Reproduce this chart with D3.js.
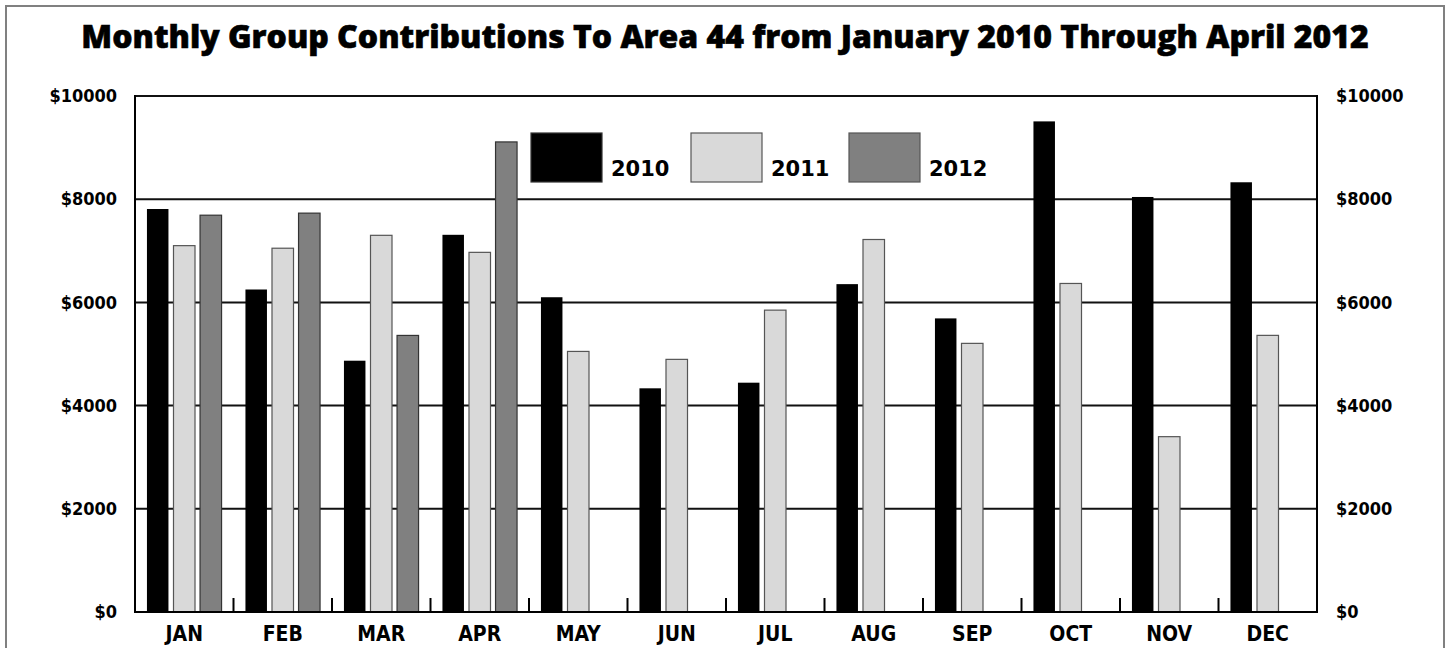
<!DOCTYPE html>
<html>
<head>
<meta charset="utf-8">
<script src="https://cdn.jsdelivr.net/npm/d3@7"></script>
<style>
  html, body { margin: 0; padding: 0; background: #fff; }
  svg { display: block; }
  .lbl { font-family: 'DejaVu Sans Condensed', 'DejaVu Sans', sans-serif; font-stretch: condensed; font-weight: bold; }
</style>
</head>
<body>
<svg id="chart" width="1449" height="648"></svg>
<script>
const titleText = "Monthly Group Contributions To Area 44 from January 2010 Through April 2012";
const months = ["JAN","FEB","MAR","APR","MAY","JUN","JUL","AUG","SEP","OCT","NOV","DEC"];
const years = ["2010","2011","2012"];
const values2010 = [7810, 6250, 4870, 7310, 6100, 4335, 4444, 6354, 5690, 9508, 8043, 8328];
const values2011 = [7100, 7050, 7300, 6970, 5050, 4896, 5850, 7219, 5206, 6367, 3398, 5361];
const values2012 = [7690, 7730, 5360, 9110, null, null, null, null, null, null, null, null];
const yTicks = [0, 2000, 4000, 6000, 8000, 10000];
const yearColors = ["#000000", "#d9d9d9", "#808080"];
const yearStrokes = ["#000000", "#555555", "#333333"];

const svg = d3.select("#chart");
const plot = { left: 135, right: 1317, top: 96, bottom: 612 };

// outer border
svg.append("rect")
  .attr("x", 6).attr("y", 6).attr("width", 1438).attr("height", 660)
  .attr("fill", "none").attr("stroke", "#808080").attr("stroke-width", 2);

// title
const title = svg.append("text")
  .attr("x", 725).attr("y", 48)
  .attr("text-anchor", "middle")
  .attr("font-family", "'Open Sans', Lato, sans-serif")
  .attr("font-weight", 800)
  .attr("font-size", 30)
  .attr("fill", "#000")
  .attr("stroke", "#000").attr("stroke-width", 0.6)
  .text(titleText);
{
  const targetW = 1288;
  const w = title.node().getComputedTextLength();
  title.attr("font-size", 30 * targetW / w);
}

const x0 = d3.scaleBand().domain(months).range([plot.left, plot.right]).paddingInner(0).paddingOuter(0);
const x1 = d3.scaleBand().domain(years).range([0, x0.bandwidth()]).paddingInner(0.19).paddingOuter(0.45);
const y = d3.scaleLinear().domain([0, 10000]).range([plot.bottom, plot.top]);

// gridlines
svg.append("g").selectAll("line").data(yTicks.filter(d => d > 0)).join("line")
  .attr("x1", plot.left).attr("x2", plot.right)
  .attr("y1", d => y(d)).attr("y2", d => y(d))
  .attr("stroke", "#111").attr("stroke-width", 2);

// bars
const series = [values2010, values2011, values2012];
const barData = [];
months.forEach((m, i) => {
  years.forEach((yr, j) => {
    const v = series[j][i];
    if (v != null) barData.push({ m, yr, j, v });
  });
});
svg.append("g").selectAll("rect").data(barData).join("rect")
  .attr("x", d => x0(d.m) + x1(d.yr))
  .attr("width", x1.bandwidth())
  .attr("y", d => y(d.v))
  .attr("height", d => y(0) - y(d.v))
  .attr("fill", d => yearColors[d.j])
  .attr("stroke", d => yearStrokes[d.j])
  .attr("stroke-width", d => d.j === 0 ? 0 : 1.2);

// frame: left, right, bottom
svg.append("line").attr("x1", plot.left).attr("x2", plot.left).attr("y1", plot.top - 1).attr("y2", plot.bottom + 1)
  .attr("stroke", "#000").attr("stroke-width", 2);
svg.append("line").attr("x1", plot.right).attr("x2", plot.right).attr("y1", plot.top - 1).attr("y2", plot.bottom + 1)
  .attr("stroke", "#000").attr("stroke-width", 2);
svg.append("line").attr("x1", plot.left).attr("x2", plot.right).attr("y1", plot.bottom).attr("y2", plot.bottom)
  .attr("stroke", "#000").attr("stroke-width", 2);

// category boundary ticks (inside)
svg.append("g").selectAll("line").data(months.slice(1)).join("line")
  .attr("x1", d => x0(d)).attr("x2", d => x0(d))
  .attr("y1", plot.bottom).attr("y2", plot.bottom - 14)
  .attr("stroke", "#000").attr("stroke-width", 2);

// left / right axes
const yFmt = d => "$" + d;
const leftAxis = svg.append("g").attr("transform", `translate(${plot.left},0)`)
  .call(d3.axisLeft(y).tickValues(yTicks).tickSize(0).tickPadding(18).tickFormat(yFmt));
leftAxis.select(".domain").remove();
leftAxis.selectAll("text").attr("class", "lbl").attr("font-family", null).attr("font-size", 18).attr("fill", "#000");

const rightAxis = svg.append("g").attr("transform", `translate(${plot.right},0)`)
  .call(d3.axisRight(y).tickValues(yTicks).tickSize(0).tickPadding(19).tickFormat(yFmt));
rightAxis.select(".domain").remove();
rightAxis.selectAll("text").attr("class", "lbl").attr("font-family", null).attr("font-size", 18).attr("fill", "#000");

// bottom axis labels
const bottomAxis = svg.append("g").attr("transform", `translate(0,${plot.bottom})`)
  .call(d3.axisBottom(x0).tickSize(0).tickPadding(14));
bottomAxis.select(".domain").remove();
bottomAxis.selectAll("text").attr("class", "lbl").attr("font-family", null).attr("font-size", 21).attr("fill", "#000");

// legend
const legendX = [531, 691, 849];
const lg = svg.append("g");
years.forEach((yr, j) => {
  lg.append("rect")
    .attr("x", legendX[j]).attr("y", 133).attr("width", 71).attr("height", 49)
    .attr("fill", yearColors[j]).attr("stroke", j === 0 ? "#333" : "#555").attr("stroke-width", 1.2);
  lg.append("text")
    .attr("x", legendX[j] + 80).attr("y", 176)
    .attr("font-family", "'DejaVu Sans', Verdana, sans-serif")
    .attr("font-weight", "bold").attr("font-size", 21).attr("fill", "#000")
    .text(yr);
});
</script>
</body>
</html>
